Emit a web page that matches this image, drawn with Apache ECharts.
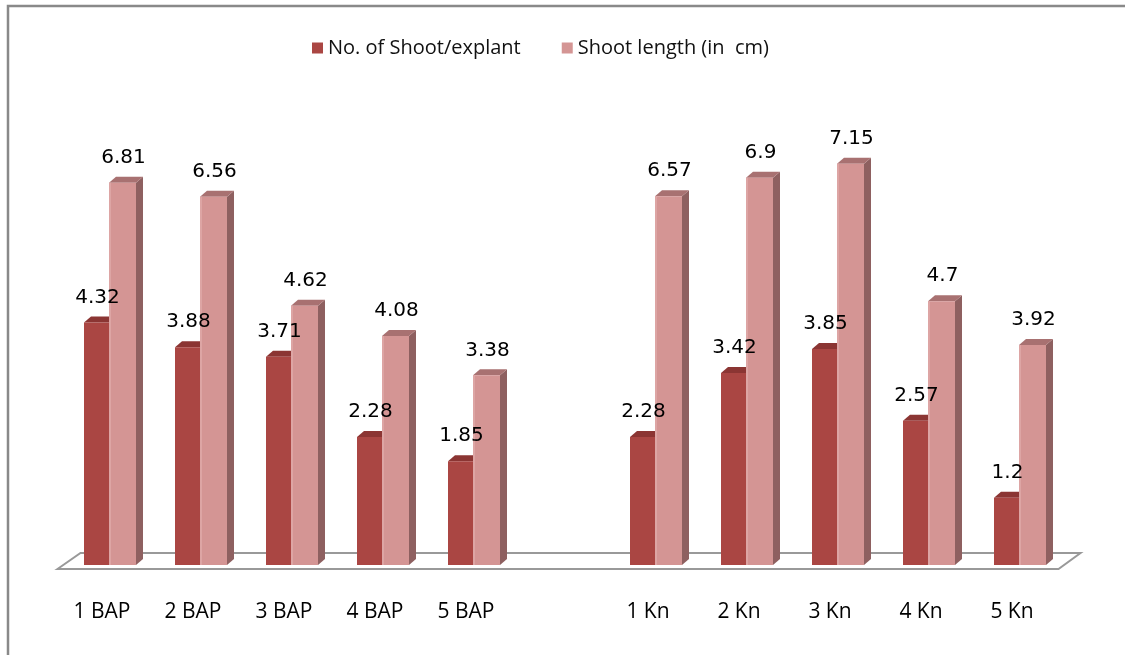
<!DOCTYPE html>
<html>
<head>
<meta charset="utf-8">
<script src="https://cdn.jsdelivr.net/npm/echarts@6/dist/echarts.min.js"></script>
<style>
  html, body { margin: 0; padding: 0; background: #fff; }
  #chart { width: 1125px; height: 655px; }
</style>
</head>
<body>
<div id="chart"></div>
<script>
// data
const categories = ['1 BAP', '2 BAP', '3 BAP', '4 BAP', '5 BAP', '', '1 Kn', '2 Kn', '3 Kn', '4 Kn', '5 Kn'];
const shootNo = [4.32, 3.88, 3.71, 2.28, 1.85, null, 2.28, 3.42, 3.85, 2.57, 1.2];
const shootLength = [6.81, 6.56, 4.62, 4.08, 3.38, null, 6.57, 6.9, 7.15, 4.7, 3.92];
const seriesNames = ['No. of Shoot/explant', 'Shoot length (in  cm)'];

// 3d look
const DEPTH_X = 7, DEPTH_Y = 6;
const faces = [
  { front: '#AA4643', side: '#7E2F2D', top: '#8B3533', edge: null, w: 25 },
  { front: '#D49594', side: '#8E6060', top: '#A87171', edge: '#DDA5A4', w: 27 }
];

function toData(arr) {
  const out = [];
  arr.forEach((v, i) => { if (v != null) out.push([i, v]); });
  return out;
}

// front x range of bar k in the category
function barX(k, cx) {
  const x0 = k === 0 ? cx - faces[k].w : cx;
  return [x0, x0 + faces[k].w];
}

function barRenderer(k) {
  const f = faces[k];
  return function (params, api) {
    const base = api.coord([api.value(0), 0]);
    const top = api.coord([api.value(0), api.value(1)]);
    const [x0, x1] = barX(k, base[0]);
    const y0 = top[1], y1 = base[1];
    const children = [
      { type: 'polygon', shape: { points: [[x1, y0], [x1 + DEPTH_X, y0 - DEPTH_Y], [x1 + DEPTH_X, y1 - DEPTH_Y], [x1, y1]] },
        style: { fill: f.side } },
      { type: 'polygon', shape: { points: [[x0, y0], [x0 + DEPTH_X, y0 - DEPTH_Y], [x1 + DEPTH_X, y0 - DEPTH_Y], [x1, y0]] },
        style: { fill: f.top } },
      { type: 'rect', shape: { x: x0, y: y0, width: f.w, height: y1 - y0 }, style: { fill: f.front } }
    ];
    if (f.edge) {
      children.push({ type: 'rect', shape: { x: x0, y: y0, width: 2, height: y1 - y0 }, style: { fill: f.edge } });
    }
    return { type: 'group', children: children };
  };
}

// value labels drawn by their own series so they sit above every bar
function labelRenderer(k) {
  return function (params, api) {
    const base = api.coord([api.value(0), 0]);
    const top = api.coord([api.value(0), api.value(1)]);
    const [x0, x1] = barX(k, base[0]);
    return {
      type: 'text',
      style: {
        text: String(api.value(1)),
        x: (x0 + x1) / 2 + 1,
        y: top[1] - 25,
        align: 'center',
        verticalAlign: 'middle',
        font: '20px "DejaVu Sans"',
        fill: '#000'
      }
    };
  };
}

function floorRenderer(params, api) {
  const cs = params.coordSys;
  const l = cs.x, r = cs.x + cs.width, b = cs.y + cs.height;
  return {
    type: 'polygon',
    shape: { points: [[l - 6, b + 4], [l + 17, b - 12], [r + 16, b - 12], [r - 6, b + 4]] },
    style: { fill: '#fff', stroke: '#999999', lineWidth: 2 }
  };
}

const chart = echarts.init(document.getElementById('chart'), null, { renderer: 'canvas' });
chart.setOption({
  animation: false,
  backgroundColor: '#fff',
  graphic: [{
    type: 'rect',
    shape: { x: 8, y: 6, width: 1300, height: 800 },
    style: { fill: 'none', stroke: '#898989', lineWidth: 2.5 },
    silent: true
  }],
  legend: {
    data: seriesNames,
    top: 33,
    left: 307,
    icon: 'rect',
    itemWidth: 11,
    itemHeight: 11,
    itemGap: 41,
    textStyle: { fontFamily: 'Open Sans', fontSize: 20, color: '#111' }
  },
  grid: { left: 63.5, right: 60.5, top: 116, bottom: 90 },
  xAxis: {
    type: 'category',
    data: categories,
    axisLine: { show: false },
    axisTick: { show: false },
    axisLabel: {
      margin: 37, fontFamily: 'Open Sans', fontSize: 21, color: '#000', interval: 0,
      padding: [0, 14, 0, 0]
    }
  },
  yAxis: {
    type: 'value',
    min: 0,
    max: 8,
    show: false,
    splitLine: { show: false }
  },
  series: [
    { type: 'custom', name: 'floor', renderItem: floorRenderer, data: [[0, 0]], z: 1, silent: true },
    { type: 'custom', name: seriesNames[0], renderItem: barRenderer(0), data: toData(shootNo),
      itemStyle: { color: faces[0].front }, z: 2 },
    { type: 'custom', name: seriesNames[1], renderItem: barRenderer(1), data: toData(shootLength),
      itemStyle: { color: faces[1].front }, z: 3 },
    { type: 'custom', name: 'labels0', renderItem: labelRenderer(0), data: toData(shootNo), z: 5, silent: true },
    { type: 'custom', name: 'labels1', renderItem: labelRenderer(1), data: toData(shootLength), z: 5, silent: true }
  ]
});
</script>
</body>
</html>
